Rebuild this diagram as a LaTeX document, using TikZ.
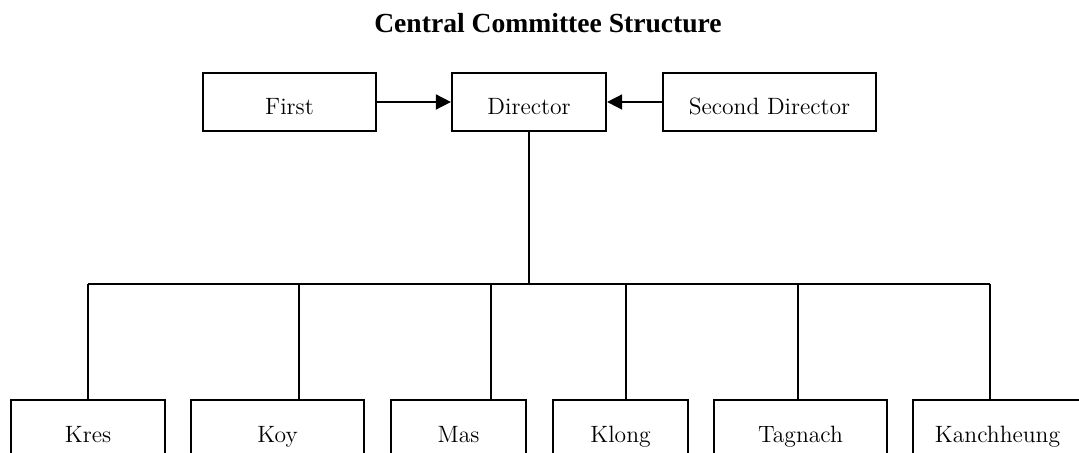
\documentclass[tikz,border=0pt]{standalone}
\usepackage{fontspec}
\newfontfamily\titlefont{Liberation Serif}
\usetikzlibrary{arrows.meta}

\begin{document}
\begin{tikzpicture}[
      x=0.5pt, y=-0.5pt,
      every node/.style={draw, line width=1.1pt, inner sep=0pt, text height=14pt, text depth=1pt,
          minimum height=29pt, font=\fontsize{11.8}{14}\selectfont},
      link/.style={line width=0.8pt},
      arrow/.style={link, -{Triangle[length=7.5pt, width=7.5pt]}}
    ]

    \useasboundingbox (0,0) rectangle (1079,453);
    \clip (0,0) rectangle (1079,453);

    \node[draw=none, anchor=base, text height=, text depth=, minimum height=0pt,
      font=\titlefont\bfseries\fontsize{13.8}{16}\selectfont] (title) at (548,33) {Central Committee Structure};

    % top row
    \node[minimum width=86.5pt] (first) at (289.5,102) {First};
    \node[minimum width=77pt] (dir) at (529,102) {Director};
    \node[minimum width=106.5pt] (second) at (769.5,102) {Second Director};

    \draw[arrow] (first) -- (dir);
    \draw[arrow] (second) -- (dir);

    % bottom row
    \node[minimum width=77pt] (kres) at (88,429) {Kres};
    \node[minimum width=86.5pt] (koy) at (277.5,429) {Koy};
    \node[minimum width=67.5pt] (mas) at (458.5,429) {Mas};
    \node[minimum width=67.5pt] (klong) at (620.5,429) {Klong};
    \node[minimum width=86.5pt] (tagnach) at (800.5,429) {Tagnach};
    \node[minimum width=84.5pt] (kanch) at (997.5,429) {Kanchheung};

    \coordinate (busl) at (88,284);
    \coordinate (busr) at (990,284);
    \draw[link] (dir.south) -- (dir.south |- busl);
    \draw[link] (busl) -- (busr);

    \foreach \x/\n in {88/kres, 299/koy, 491/mas, 626/klong, 798/tagnach, 990/kanch} {
        \coordinate (s-\n) at (\x,284);
        \draw[link] (s-\n) -- (s-\n |- \n.north);
      }

  \end{tikzpicture}
\end{document}
